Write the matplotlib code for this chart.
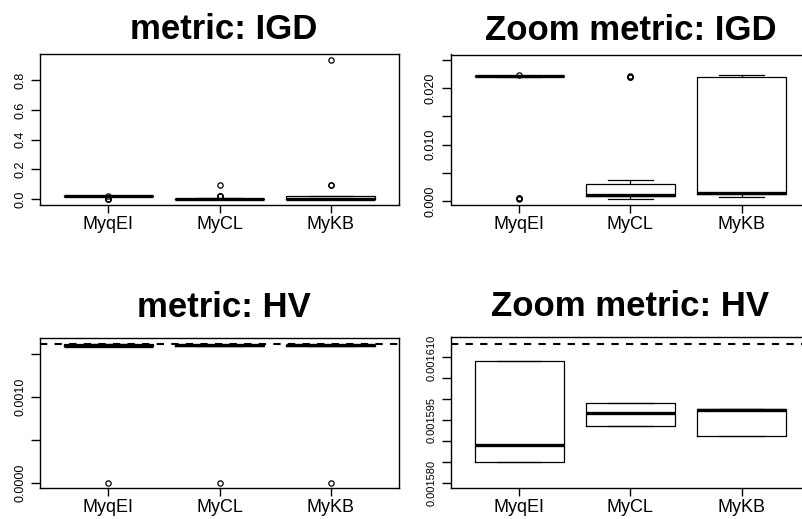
'''Boxplots of IGD and HV per method, full range and zoomed'''
import matplotlib.pyplot as plt

plt.rcParams['font.family'] = ['Liberation Sans', 'DejaVu Sans']

methods = ["MyqEI", "MyCL", "MyKB"]

# IGD box statistics per method
igd_whislo = [0.02200, 0.00047, 0.00071]
igd_q1 = [0.02203, 0.00089, 0.00124]
igd_med = [0.02207, 0.00107, 0.00136]
igd_q3 = [0.02210, 0.00296, 0.02189]
igd_whishi = [0.02212, 0.00380, 0.02237]
igd_fliers = [[0.02237, 0.00045, 0.00048, 0.00050],
              [0.02190, 0.02200, 0.02210, 0.09640],
              [0.09620, 0.09660, 0.93400]]

# HV box statistics per method, whiskers sit on the hinges
hv_q1 = [0.0015850, 0.0015936, 0.0015911]
hv_med = [0.0015891, 0.0015968, 0.0015975]
hv_q3 = [0.0016092, 0.0015990, 0.0015976]
hv_fliers = [[0.0], [0.0], [0.0]]
hv_ref = 0.0016132  # HV of the true front, dashed line


def make_stats(lo, q1, med, q3, hi, fliers):
    '''Builds the list of dicts that bxp wants'''
    stats = []
    for i in range(len(methods)):
        stats.append({'label': methods[i], 'whislo': lo[i], 'q1': q1[i],
                      'med': med[i], 'q3': q3[i], 'whishi': hi[i],
                      'fliers': fliers[i]})
    return stats


def draw_panel(rect, stats, title, title_x, title_pad, ylim, ticks, labels,
               ytick_size=9, ref=None):
    '''Draws one R style boxplot panel'''
    ax = fig.add_axes(rect)
    ax.bxp(stats, positions=[1, 2, 3], widths=0.8,
           boxprops={'color': 'black', 'linewidth': 0.9},
           medianprops={'color': 'black', 'linewidth': 2.4, 'solid_capstyle': 'butt'},
           whiskerprops={'color': 'black', 'linewidth': 0.9, 'linestyle': (0, (3, 3))},
           capprops={'color': 'black', 'linewidth': 0.9},
           flierprops={'marker': 'o', 'markerfacecolor': 'none', 'markeredgecolor': 'black',
                       'markersize': 3.8, 'markeredgewidth': 0.9})
    if ref is not None:
        ax.axhline(ref, color='black', linewidth=1.5, linestyle=(0, (3.5, 3.5)))
    ax.set_xlim(0.385, 3.615)
    ax.set_ylim(ylim)
    ax.set_yticks(ticks)
    ax.set_yticklabels(labels)
    ax.tick_params(axis='x', labelsize=13, length=6, width=1, pad=2)
    ax.tick_params(axis='y', labelsize=ytick_size, length=6.5, width=1, pad=3.5,
                   labelrotation=90)
    for lab in ax.get_yticklabels():
        lab.set_verticalalignment('center')
    for s in ax.spines.values():
        s.set_linewidth(1.0)
    ax.set_title(title, fontsize=25, fontweight='bold', pad=title_pad, x=title_x)
    return ax


fig = plt.figure(figsize=(8.02, 5.19), dpi=100)
W, H = 802.0, 519.0

igd_stats = make_stats(igd_whislo, igd_q1, igd_med, igd_q3, igd_whishi, igd_fliers)
hv_stats = make_stats(hv_q1, hv_q1, hv_med, hv_q3, hv_q3, hv_fliers)

draw_panel([40 / W, (H - 205) / H, 359.3 / W, 150.7 / H], igd_stats,
           "metric: IGD", 0.512, 10.8, (-0.0403, 0.975),
           [0.0, 0.2, 0.4, 0.6, 0.8], ["0.0", "0.2", "0.4", "0.6", "0.8"])

draw_panel([450.7 / W, (H - 204.5) / H, 359.3 / W, 150 / H], igd_stats,
           "Zoom metric: IGD", 0.5, 10.8, (-0.000586, 0.02591),
           [0.0, 0.005, 0.010, 0.015, 0.020, 0.025],
           ["0.000", "", "0.010", "", "0.020", ""])

draw_panel([40 / W, (H - 488.3) / H, 359.3 / W, 150 / H], hv_stats,
           "metric: HV", 0.512, 15.1, (-0.0000651, 0.001679),
           [0.0, 0.0005, 0.0010, 0.0015], ["0.0000", "", "0.0010", ""],
           ref=hv_ref)

draw_panel([450.7 / W, (H - 488.3) / H, 359.3 / W, 151 / H], hv_stats,
           "Zoom metric: HV", 0.5, 15.1, (0.0015787, 0.0016148),
           [0.001580, 0.001585, 0.001590, 0.001595, 0.001600, 0.001605, 0.001610],
           ["0.001580", "", "", "0.001595", "", "", "0.001610"],
           ytick_size=8, ref=hv_ref)

fig.savefig("out.png", dpi=100)
